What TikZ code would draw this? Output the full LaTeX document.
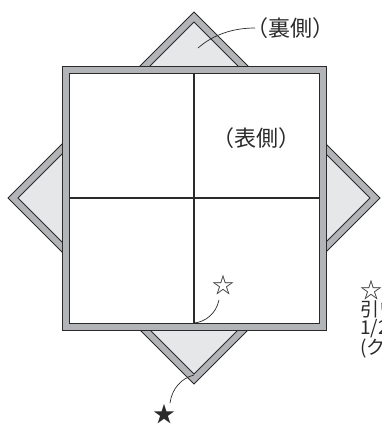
\documentclass[tikz,border=0pt]{standalone}
\usepackage{fontspec}
\setmainfont{Noto Sans CJK JP}
\definecolor{band}{HTML}{B2B4B7}
\definecolor{paper}{HTML}{E6E7E8}
\definecolor{ink}{HTML}{2A2A2A}
\begin{document}
\begin{tikzpicture}[x=1pt,y=-1pt,
  frame/.style={fill=band,draw=ink,line width=0.8pt},
  face/.style={draw=ink,line width=0.8pt},
  crease/.style={draw=ink,line width=1.1pt},
  leader/.style={draw=ink,line width=0.7pt},
  label/.style={inner sep=0pt,font=\fontsize{22}{24}\selectfont,text=ink},
  note/.style={inner sep=0pt,font=\fontsize{19}{18}\selectfont,text=ink,align=left,anchor=north west}]
\useasboundingbox (0,0) rectangle (381,428);
% back diamond
\path[frame] (194,12) -- (380,198) -- (194,384) -- (8,198) -- cycle;
\path[face,fill=paper] (194,22) -- (370,198) -- (194,374) -- (18,198) -- cycle;
% front square
\path[frame] (62,66) rectangle (326,330);
\path[face,fill=white] (69,73) rectangle (319,323);
\coordinate (ct) at (194,73);
\coordinate (cb) at (194,323);
\coordinate (cl) at (69,198);
\coordinate (cr) at (319,198);
\draw[crease] (ct) -- (cb);
\draw[crease] (cl) -- (cr);
% labels
\node[label] (ura) at (290,28) {（裏側）};
\node[label] (omote) at (256,138) {（表側）};
\node[label] (wstar) at (223,285) {☆};
\node[label] (bstar) at (164,414) {★};
% leaders
\coordinate (uraP) at (198,48);
\coordinate (uraE) at (255,28);
\draw[leader] (uraP) .. controls (214,34) and (234,28) .. (uraE);
\coordinate (wsE) at (219,300);
\draw[leader] (wsE) .. controls (216,314) and (205,322) .. (cb);
\coordinate (bsE) at (170,403);
\coordinate (dB) at (194,375);
\draw[leader] (bsE) .. controls (172,388) and (182,378) .. (dB);
% right note, cut by the page edge as in the reference
\begin{scope}
\clip (340,270) rectangle (381,428);
\node[note] (note) at (360,280) {{\fontsize{22}{18}\selectfont ☆}\\引い\\1/2\\(ク};
\end{scope}
\end{tikzpicture}
\end{document}
